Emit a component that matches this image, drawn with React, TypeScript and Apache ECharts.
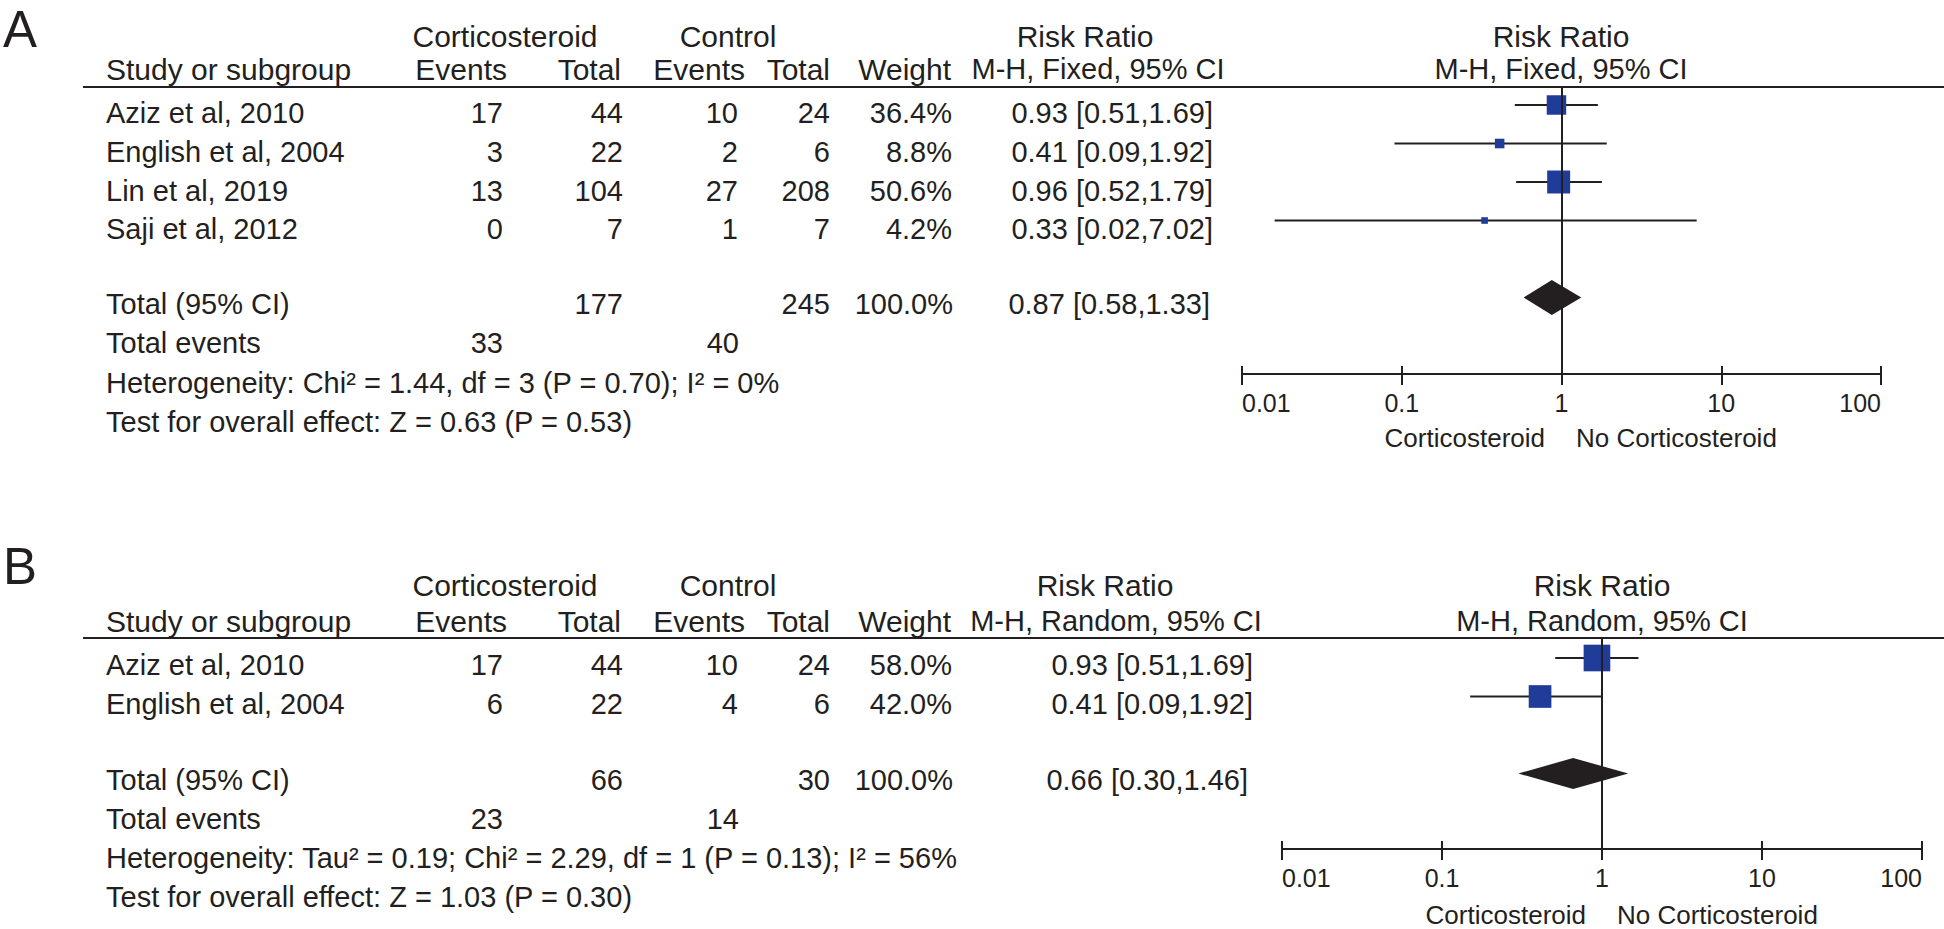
import React, { useEffect, useRef } from "react";
import * as echarts from "echarts";

const INK = "#231f20";
const BLUE = "#1f3c98";
const FONT = "'Liberation Sans', Arial, Helvetica, sans-serif";

// ---------- Shared ----------
const TICK_LABELS = ["0.01", "0.1", "1", "10", "100"];
const GROUP_LABELS = ["Corticosteroid", "Control"];
const COL_HEADERS = ["Study or subgroup", "Events", "Total", "Events", "Total", "Weight"];
const FAVOURS = ["Corticosteroid", "No Corticosteroid"];

// ---------- Panel A (fixed effect) ----------
const A_STUDIES = ["Aziz et al, 2010", "English et al, 2004", "Lin et al, 2019", "Saji et al, 2012"];
const A_CORT_EVENTS = [17, 3, 13, 0];
const A_CORT_TOTAL = [44, 22, 104, 7];
const A_CTRL_EVENTS = [10, 2, 27, 1];
const A_CTRL_TOTAL = [24, 6, 208, 7];
const A_WEIGHT = [36.4, 8.8, 50.6, 4.2];
const A_CI_TEXT = ["0.93 [0.51,1.69]", "0.41 [0.09,1.92]", "0.96 [0.52,1.79]", "0.33 [0.02,7.02]"];
const A_RR = [0.93, 0.41, 0.96, 0.33];
const A_LO = [0.51, 0.09, 0.52, 0.016];
const A_HI = [1.69, 1.92, 1.79, 7.02];
const A_ROW = [0, 1, 2, 3];
const A_TOTAL = { cortTotal: 177, ctrlTotal: 245, weight: "100.0%", ciText: "0.87 [0.58,1.33]", rr: 0.87, lo: 0.58, hi: 1.33, row: 5, cortEvents: 33, ctrlEvents: 40 };
const A_METHOD = "M-H, Fixed, 95% CI";
const A_HET = "Heterogeneity: Chi² = 1.44, df = 3 (P = 0.70); I² = 0%";
const A_TEST = "Test for overall effect: Z = 0.63 (P = 0.53)";

// ---------- Panel B (random effects) ----------
const B_STUDIES = ["Aziz et al, 2010", "English et al, 2004"];
const B_CORT_EVENTS = [17, 6];
const B_CORT_TOTAL = [44, 22];
const B_CTRL_EVENTS = [10, 4];
const B_CTRL_TOTAL = [24, 6];
const B_WEIGHT = [58.0, 42.0];
const B_CI_TEXT = ["0.93 [0.51,1.69]", "0.41 [0.09,1.92]"];
const B_RR = [0.93, 0.41];
const B_LO = [0.51, 0.15];
const B_HI = [1.69, 0.99];
const B_ROW = [0, 1];
const B_TOTAL = { cortTotal: 66, ctrlTotal: 30, weight: "100.0%", ciText: "0.66 [0.30,1.46]", rr: 0.66, lo: 0.3, hi: 1.46, row: 3, cortEvents: 23, ctrlEvents: 14 };
const B_METHOD = "M-H, Random, 95% CI";
const B_HET = "Heterogeneity: Tau² = 0.19; Chi² = 2.29, df = 1 (P = 0.13); I² = 56%";
const B_TEST = "Test for overall effect: Z = 1.03 (P = 0.30)";

const PANELS = [
  {
    label: "A", studies: A_STUDIES, cortEv: A_CORT_EVENTS, cortTot: A_CORT_TOTAL, ctrlEv: A_CTRL_EVENTS, ctrlTot: A_CTRL_TOTAL,
    weight: A_WEIGHT, ciText: A_CI_TEXT, rr: A_RR, lo: A_LO, hi: A_HI, row: A_ROW, total: A_TOTAL, method: A_METHOD, het: A_HET, test: A_TEST,
    L: { labelY: 29, h1: 36, h2: 69, lineY: 87, rowsY: [113, 152, 191, 229], totalY: 304, eventsY: 343, hetY: 383, testY: 422,
      rrRight: 1213, rrTotalRight: 1210, rrHead: 1085, rrSub: 1098, gridLeft: 1242, gridRight: 1881, axisY: 374, center: 1561,
      bottomY: 438, p0: 105, unit: 38.5, k: 3.23, dHalf: 17.5 },
  },
  {
    label: "B", studies: B_STUDIES, cortEv: B_CORT_EVENTS, cortTot: B_CORT_TOTAL, ctrlEv: B_CTRL_EVENTS, ctrlTot: B_CTRL_TOTAL,
    weight: B_WEIGHT, ciText: B_CI_TEXT, rr: B_RR, lo: B_LO, hi: B_HI, row: B_ROW, total: B_TOTAL, method: B_METHOD, het: B_HET, test: B_TEST,
    L: { labelY: 566, h1: 585, h2: 621, lineY: 638, rowsY: [665, 704], totalY: 780, eventsY: 819, hetY: 858, testY: 897,
      rrRight: 1253, rrTotalRight: 1248, rrHead: 1105, rrSub: 1116, gridLeft: 1282, gridRight: 1922, axisY: 849, center: 1602,
      bottomY: 915, p0: 658, unit: 38.5, k: 3.5, dHalf: 15.5 },
  },
];

const COLX = { study: 106, cortEv: 503, cortTot: 623, ctrlEv: 738, ctrlTot: 830, weight: 952 };
const HEADX = { cort: 505, ctrl: 728, evC: 507, totC: 621, evK: 745, totK: 830, weight: 951 };
const HEAD_SIZE = 30;
const BODY_SIZE = 29;
const LETTER_SIZE = 51;

function txt(x: number, y: number, text: string, align = "left", size = BODY_SIZE, lineHeight?: number) {
  return {
    type: "text", x, y, silent: true,
    style: {
      text, fill: INK, fontSize: size, fontFamily: FONT,
      lineHeight: lineHeight ?? size,
      textAlign: align, textVerticalAlign: "middle", align, verticalAlign: "middle",
    },
  };
}

function line(x1: number, y1: number, x2: number, y2: number) {
  return { type: "line", silent: true, shape: { x1, y1, x2, y2 }, style: { stroke: INK, lineWidth: 2 } };
}

function buildOption() {
  const graphic: any[] = [];
  const grid: any[] = [];
  const xAxis: any[] = [];
  const yAxis: any[] = [];
  const series: any[] = [];

  PANELS.forEach((p, g) => {
    const L = p.L;
    // panel letter
    graphic.push(txt(3, L.labelY, p.label, "left", LETTER_SIZE, 44));
    // headers
    graphic.push(txt(HEADX.cort, L.h1, GROUP_LABELS[0], "center", HEAD_SIZE));
    graphic.push(txt(HEADX.ctrl, L.h1, GROUP_LABELS[1], "center", HEAD_SIZE));
    graphic.push(txt(L.rrHead, L.h1, "Risk Ratio", "center", HEAD_SIZE));
    graphic.push(txt(L.center, L.h1, "Risk Ratio", "center", HEAD_SIZE));
    graphic.push(txt(COLX.study, L.h2, COL_HEADERS[0], "left", HEAD_SIZE));
    graphic.push(txt(HEADX.evC, L.h2, COL_HEADERS[1], "right", HEAD_SIZE));
    graphic.push(txt(HEADX.totC, L.h2, COL_HEADERS[2], "right", HEAD_SIZE));
    graphic.push(txt(HEADX.evK, L.h2, COL_HEADERS[3], "right", HEAD_SIZE));
    graphic.push(txt(HEADX.totK, L.h2, COL_HEADERS[4], "right", HEAD_SIZE));
    graphic.push(txt(HEADX.weight, L.h2, COL_HEADERS[5], "right", HEAD_SIZE));
    graphic.push(txt(L.rrSub, L.h2, p.method, "center", HEAD_SIZE - 1));
    graphic.push(txt(L.center, L.h2, p.method, "center", HEAD_SIZE - 1));
    graphic.push(line(83, L.lineY, 1944, L.lineY));

    // study rows
    p.studies.forEach((s, i) => {
      const y = L.rowsY[i];
      graphic.push(txt(COLX.study, y, s, "left"));
      graphic.push(txt(COLX.cortEv, y, String(p.cortEv[i]), "right"));
      graphic.push(txt(COLX.cortTot, y, String(p.cortTot[i]), "right"));
      graphic.push(txt(COLX.ctrlEv, y, String(p.ctrlEv[i]), "right"));
      graphic.push(txt(COLX.ctrlTot, y, String(p.ctrlTot[i]), "right"));
      graphic.push(txt(COLX.weight, y, p.weight[i].toFixed(1) + "%", "right"));
      graphic.push(txt(L.rrRight, y, p.ciText[i], "right"));
    });

    // totals
    const t = p.total;
    graphic.push(txt(COLX.study, L.totalY, "Total (95% CI)", "left"));
    graphic.push(txt(COLX.cortTot, L.totalY, String(t.cortTotal), "right"));
    graphic.push(txt(COLX.ctrlTot, L.totalY, String(t.ctrlTotal), "right"));
    graphic.push(txt(COLX.weight + 1, L.totalY, t.weight, "right"));
    graphic.push(txt(L.rrTotalRight, L.totalY, t.ciText, "right"));
    graphic.push(txt(COLX.study, L.eventsY, "Total events", "left"));
    graphic.push(txt(COLX.cortEv, L.eventsY, String(t.cortEvents), "right"));
    graphic.push(txt(COLX.ctrlEv + 1, L.eventsY, String(t.ctrlEvents), "right"));
    graphic.push(txt(COLX.study, L.hetY, p.het, "left"));
    graphic.push(txt(COLX.study, L.testY, p.test, "left"));

    // favours labels
    graphic.push(txt(L.center - 16, L.bottomY, FAVOURS[0], "right", 26, 24));
    graphic.push(txt(L.center + 15, L.bottomY, FAVOURS[1], "left", 26, 24));

    // grid + axes
    const top = L.lineY;
    const height = L.axisY - L.lineY;
    grid.push({ left: L.gridLeft, width: L.gridRight - L.gridLeft, top, height, containLabel: false });
    const yMin = -(L.p0 - top) / L.unit;
    const yMax = yMin + height / L.unit;
    yAxis.push({ type: "value", gridIndex: g, inverse: true, min: yMin, max: yMax, show: false });
    const baseX = {
      type: "log", logBase: 10, gridIndex: g, min: 0.01, max: 100, position: "bottom",
      splitLine: { show: false }, minorTick: { show: false }, minorSplitLine: { show: false },
    };
    xAxis.push({
      ...baseX,
      axisLine: { show: true, onZero: false, lineStyle: { color: INK, width: 2 } },
      axisTick: { show: true, length: 11, lineStyle: { color: INK, width: 2 } },
      axisLabel: {
        show: true, margin: 16, color: INK, fontSize: 25, fontFamily: FONT, lineHeight: 25,
        alignMinLabel: "left", alignMaxLabel: "right",
        formatter: (v: number) => TICK_LABELS[Math.round(Math.log10(v)) + 2],
      },
    });
    xAxis.push({
      ...baseX,
      axisLine: { show: false, onZero: false },
      axisTick: { show: true, inside: true, length: 8, lineStyle: { color: INK, width: 2 } },
      axisLabel: { show: false },
    });

    const k = L.k;
    const dHalf = L.dHalf;
    // pooled diamond + line of no effect
    series.push({
      type: "custom", xAxisIndex: 2 * g, yAxisIndex: g, z: 2, silent: true,
      data: [[t.rr, t.lo, t.hi, t.row]],
      encode: { x: [0, 1, 2], y: 3 },
      renderItem: (_params: any, api: any) => {
        const row = api.value(3);
        const pl = api.coord([api.value(1), row]);
        const ph = api.coord([api.value(2), row]);
        const pe = api.coord([api.value(0), row]);
        return {
          type: "polygon",
          shape: { points: [[pl[0], pl[1]], [pe[0], pe[1] - dHalf], [ph[0], ph[1]], [pe[0], pe[1] + dHalf]] },
          style: { fill: INK },
        };
      },
      markLine: {
        silent: true, symbol: ["none", "none"], label: { show: false },
        lineStyle: { color: INK, width: 2, type: "solid" },
        data: [{ xAxis: 1 }],
      },
    });
    // studies
    series.push({
      type: "custom", xAxisIndex: 2 * g, yAxisIndex: g, z: 3, silent: true,
      data: p.rr.map((r, i) => [r, p.lo[i], p.hi[i], p.row[i], p.weight[i]]),
      encode: { x: [0, 1, 2], y: 3 },
      renderItem: (_params: any, api: any) => {
        const row = api.value(3);
        const pl = api.coord([api.value(1), row]);
        const ph = api.coord([api.value(2), row]);
        const pe = api.coord([api.value(0), row]);
        const s = k * Math.sqrt(api.value(4));
        return {
          type: "group",
          children: [
            { type: "line", shape: { x1: pl[0], y1: pl[1], x2: ph[0], y2: ph[1] }, style: { stroke: INK, lineWidth: 2 } },
            { type: "rect", shape: { x: pe[0] - s / 2, y: pe[1] - s / 2, width: s, height: s }, style: { fill: BLUE } },
          ],
        };
      },
    });
  });

  return {
    animation: false,
    backgroundColor: "#ffffff",
    grid, xAxis, yAxis, series, graphic,
  };
}

export default function App() {
  const ref = useRef<HTMLDivElement>(null);
  useEffect(() => {
    if (!ref.current) return;
    const chart = echarts.init(ref.current, null, { renderer: "svg" });
    chart.setOption(buildOption() as any);
    return () => chart.dispose();
  }, []);
  return (
    <div
      ref={ref}
      style={{ position: "absolute", left: 0, top: 0, width: 1944, height: 929, background: "#fff" }}
    />
  );
}
